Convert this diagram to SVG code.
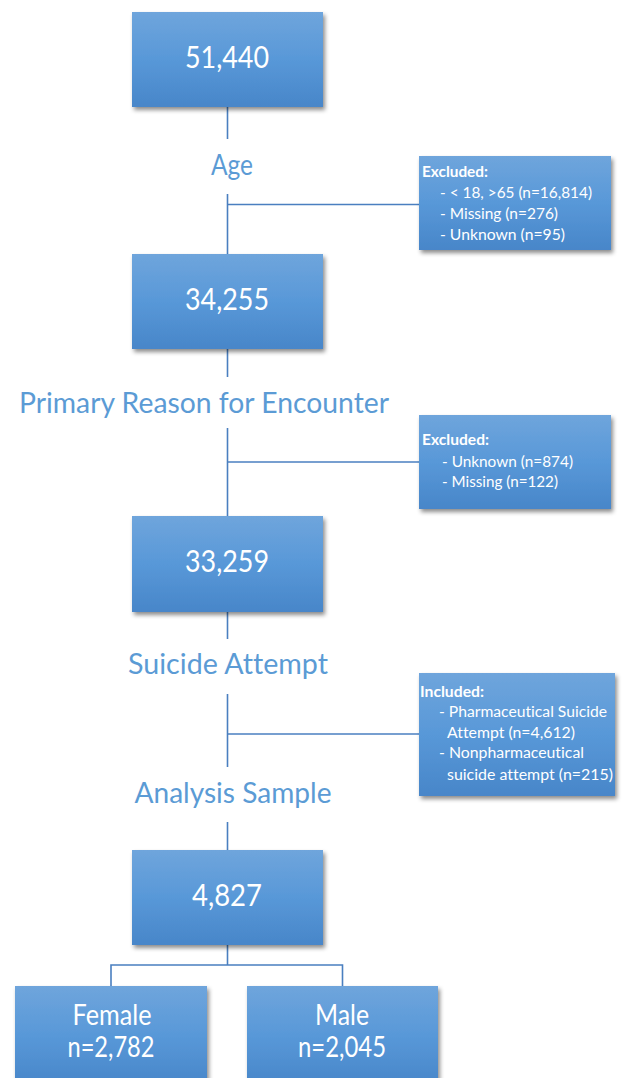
<svg xmlns="http://www.w3.org/2000/svg" width="622" height="1078" viewBox="0 0 622 1078">
  <defs>
    <linearGradient id="boxGrad" x1="0" y1="0" x2="0" y2="1">
      <stop offset="0" stop-color="#6fa5dc"/>
      <stop offset="0.5" stop-color="#5898d8"/>
      <stop offset="1" stop-color="#4886c9"/>
    </linearGradient>
    <filter id="shadow" x="-10%" y="-10%" width="125%" height="130%">
      <feDropShadow dx="2" dy="3" stdDeviation="2" flood-color="#000" flood-opacity="0.45"/>
    </filter>
  </defs>
  <style>
    text { font-family: Lato, "Open Sans", sans-serif; font-variant-ligatures: none; }
    .box { fill: url(#boxGrad); filter: url(#shadow); }
    .num { font-size: 30px; fill: #ffffff; text-anchor: middle; }
    .lbl { font-size: 28px; fill: #5b9bd5; text-anchor: middle; }
    .sub { font-size: 15.5px; fill: #ffffff; }
    .subh { font-size: 15.5px; font-weight: bold; fill: #ffffff; }
    .gen { font-size: 28px; fill: #ffffff; text-anchor: middle; }
    .conn { stroke: #4a7fc0; stroke-width: 1.6; fill: none; }
  </style>

  <g id="connectors">
    <line class="conn" x1="227.5" y1="107" x2="227.5" y2="139"/>
    <line class="conn" x1="227.5" y1="194" x2="227.5" y2="254"/>
    <line class="conn" x1="227.5" y1="204.5" x2="419" y2="204.5"/>
    <line class="conn" x1="227.5" y1="349" x2="227.5" y2="377"/>
    <line class="conn" x1="227.5" y1="428" x2="227.5" y2="516"/>
    <line class="conn" x1="227.5" y1="462" x2="419" y2="462"/>
    <line class="conn" x1="227.5" y1="612" x2="227.5" y2="639"/>
    <line class="conn" x1="227.5" y1="694" x2="227.5" y2="767"/>
    <line class="conn" x1="227.5" y1="734" x2="419" y2="734"/>
    <line class="conn" x1="227.5" y1="822" x2="227.5" y2="850"/>
    <line class="conn" x1="227.5" y1="945" x2="227.5" y2="965"/>
    <polyline class="conn" points="111,986 111,965 342.5,965 342.5,986"/>
  </g>

  <g id="label-age"><text class="lbl" x="232" y="175" textLength="42" lengthAdjust="spacingAndGlyphs">Age</text></g>
  <g id="label-primary"><text class="lbl" x="204" y="413" textLength="370" lengthAdjust="spacingAndGlyphs">Primary Reason for Encounter</text></g>
  <g id="label-suicide"><text class="lbl" x="228" y="674" textLength="200" lengthAdjust="spacingAndGlyphs">Suicide Attempt</text></g>
  <g id="label-analysis"><text class="lbl" x="233" y="803" textLength="197" lengthAdjust="spacingAndGlyphs">Analysis Sample</text></g>

  <g id="n51440">
    <rect class="box" x="132" y="12" width="191" height="95"/>
    <text class="num" x="227" y="68" textLength="84" lengthAdjust="spacingAndGlyphs">51,440</text>
  </g>
  <g id="n34255">
    <rect class="box" x="132" y="254" width="191" height="95"/>
    <text class="num" x="227" y="310" textLength="84" lengthAdjust="spacingAndGlyphs">34,255</text>
  </g>
  <g id="n33259">
    <rect class="box" x="132" y="516" width="191" height="96"/>
    <text class="num" x="227" y="572" textLength="84" lengthAdjust="spacingAndGlyphs">33,259</text>
  </g>
  <g id="n4827">
    <rect class="box" x="132" y="850" width="191" height="95"/>
    <text class="num" x="227" y="906" textLength="70" lengthAdjust="spacingAndGlyphs">4,827</text>
  </g>

  <g id="excluded-age">
    <rect class="box" x="419" y="156" width="192" height="94"/>
    <text class="subh" x="422" y="177" textLength="66" lengthAdjust="spacingAndGlyphs">Excluded:</text>
    <text class="sub" x="440" y="198" textLength="152" lengthAdjust="spacingAndGlyphs">- &lt; 18, &gt;65 (n=16,814)</text>
    <text class="sub" x="440" y="219" textLength="118" lengthAdjust="spacingAndGlyphs">- Missing (n=276)</text>
    <text class="sub" x="440" y="240" textLength="125" lengthAdjust="spacingAndGlyphs">- Unknown (n=95)</text>
  </g>
  <g id="excluded-reason">
    <rect class="box" x="419" y="415" width="192" height="94"/>
    <text class="subh" x="422" y="445" textLength="67" lengthAdjust="spacingAndGlyphs">Excluded:</text>
    <text class="sub" x="442" y="467" textLength="131" lengthAdjust="spacingAndGlyphs">- Unknown (n=874)</text>
    <text class="sub" x="442" y="487" textLength="116" lengthAdjust="spacingAndGlyphs">- Missing (n=122)</text>
  </g>
  <g id="included">
    <rect class="box" x="419" y="673" width="196" height="123"/>
    <text class="subh" x="420" y="697" textLength="64" lengthAdjust="spacingAndGlyphs">Included:</text>
    <text class="sub" x="439" y="717" textLength="168" lengthAdjust="spacingAndGlyphs">- Pharmaceutical Suicide</text>
    <text class="sub" x="447" y="738" textLength="128" lengthAdjust="spacingAndGlyphs">Attempt (n=4,612)</text>
    <text class="sub" x="439" y="758" textLength="145" lengthAdjust="spacingAndGlyphs">- Nonpharmaceutical</text>
    <text class="sub" x="447" y="780" textLength="166" lengthAdjust="spacingAndGlyphs">suicide attempt (n=215)</text>
  </g>

  <g id="female">
    <rect class="box" x="15" y="986" width="192" height="100"/>
    <text class="gen" x="112" y="1025" textLength="79" lengthAdjust="spacingAndGlyphs">Female</text>
    <text class="gen" x="111" y="1057" textLength="87" lengthAdjust="spacingAndGlyphs">n=2,782</text>
  </g>
  <g id="male">
    <rect class="box" x="247" y="986" width="191" height="100"/>
    <text class="gen" x="342" y="1025" textLength="54" lengthAdjust="spacingAndGlyphs">Male</text>
    <text class="gen" x="342" y="1057" textLength="88" lengthAdjust="spacingAndGlyphs">n=2,045</text>
  </g>
</svg>
